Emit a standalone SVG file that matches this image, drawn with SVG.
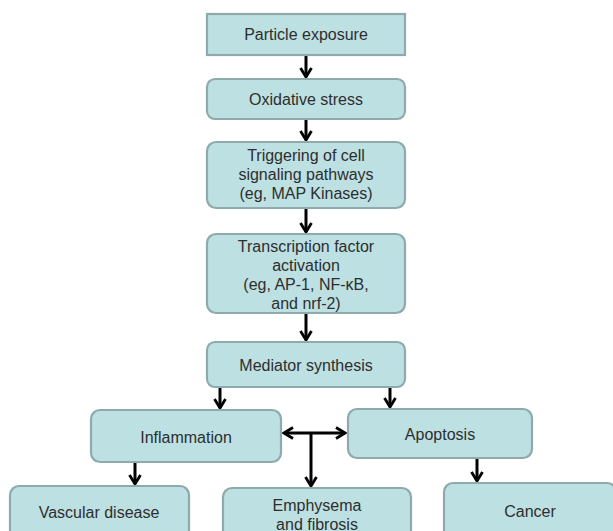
<svg xmlns="http://www.w3.org/2000/svg" width="613" height="531" viewBox="0 0 613 531">
<defs>
<style>
.box{fill:#bde0e3;stroke:#8eaaab;stroke-width:2.2}
.t{font-family:"Liberation Sans",Arial,sans-serif;font-size:16px;fill:#2e2e2e;text-anchor:middle;dominant-baseline:central}
.c{stroke:#000;stroke-width:3;fill:none}
</style>
<marker id="ah" viewBox="0 0 14 14" refX="12" refY="7" markerWidth="14" markerHeight="14" markerUnits="userSpaceOnUse" orient="auto-start-reverse">
<path d="M3,1.5 L12,7 L3,12.5" fill="none" stroke="#000" stroke-width="2.8"/>
</marker>
</defs>
<rect width="613" height="531" fill="#fff"/>
<g id="connectors">
<line class="c" x1="306" y1="56" x2="306" y2="77" marker-end="url(#ah)"/>
<line class="c" x1="306" y1="120" x2="306" y2="140" marker-end="url(#ah)"/>
<line class="c" x1="306" y1="209" x2="306" y2="232" marker-end="url(#ah)"/>
<line class="c" x1="306" y1="314" x2="306" y2="340" marker-end="url(#ah)"/>
<line class="c" x1="220" y1="388" x2="220" y2="408" marker-end="url(#ah)"/>
<line class="c" x1="390" y1="388" x2="390" y2="407" marker-end="url(#ah)"/>
<line class="c" x1="284" y1="433" x2="345" y2="433" marker-start="url(#ah)" marker-end="url(#ah)"/>
<line class="c" x1="311" y1="433" x2="311" y2="486" marker-end="url(#ah)"/>
<line class="c" x1="135" y1="463" x2="135" y2="484" marker-end="url(#ah)"/>
<line class="c" x1="477" y1="459" x2="477" y2="481" marker-end="url(#ah)"/>
</g>
<g id="particle"><rect class="box" x="207" y="14" width="198" height="41"/><text class="t" x="306" y="34.5">Particle exposure</text></g>
<g id="oxidative"><rect class="box" x="207" y="79" width="198" height="40" rx="8"/><text class="t" x="306" y="99">Oxidative stress</text></g>
<g id="triggering"><rect class="box" x="207" y="142" width="198" height="66" rx="9"/><text class="t" x="306" y="155">Triggering of cell</text><text class="t" x="306" y="174">signaling pathways</text><text class="t" x="306" y="193">(eg, MAP Kinases)</text></g>
<g id="transcription"><rect class="box" x="207" y="234" width="198" height="79" rx="9"/><text class="t" x="306" y="246">Transcription factor</text><text class="t" x="306" y="265">activation</text><text class="t" x="306" y="284">(eg, AP-1, NF-κB,</text><text class="t" x="306" y="303">and nrf-2)</text></g>
<g id="mediator"><rect class="box" x="207" y="342" width="198" height="45" rx="8"/><text class="t" x="306" y="365">Mediator synthesis</text></g>
<g id="inflammation"><rect class="box" x="91" y="410" width="190" height="52" rx="9"/><text class="t" x="186" y="437">Inflammation</text></g>
<g id="apoptosis"><rect class="box" x="348" y="409" width="184" height="49" rx="9"/><text class="t" x="440" y="434">Apoptosis</text></g>
<g id="vascular"><rect class="box" x="10" y="486" width="179" height="60" rx="9"/><text class="t" x="99" y="512">Vascular disease</text></g>
<g id="emphysema"><rect class="box" x="223" y="488" width="188" height="60" rx="9"/><text class="t" x="317" y="505">Emphysema</text><text class="t" x="317" y="524">and fibrosis</text></g>
<g id="cancer"><rect class="box" x="444" y="483" width="172" height="60" rx="9"/><text class="t" x="530" y="511">Cancer</text></g>
</svg>
